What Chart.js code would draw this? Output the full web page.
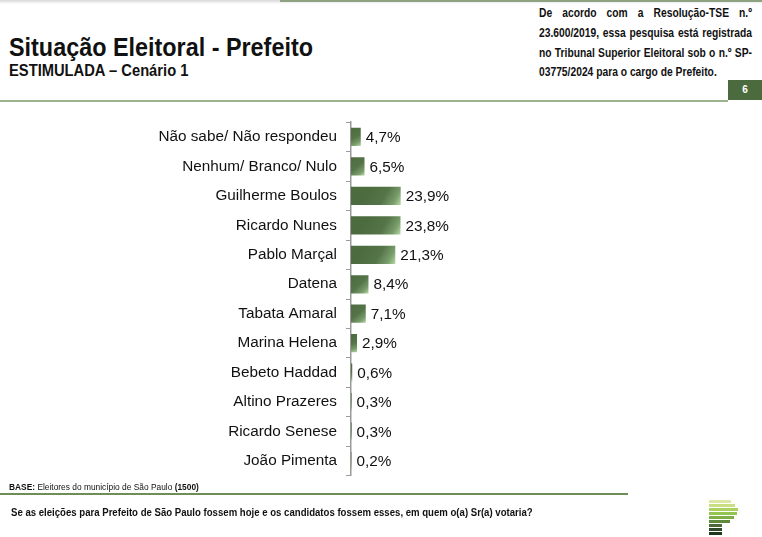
<!DOCTYPE html>
<html lang="pt-BR">
<head>
    <meta charset="UTF-8">
    <title>Situação Eleitoral - Prefeito</title>
    <script src="https://cdn.jsdelivr.net/npm/chart.js"></script>
    <style>
        body { margin: 0; width: 762px; height: 537px; position: relative; background: #fff; overflow: hidden;
               font-family: "Liberation Sans", Arial, sans-serif; color: #111; }
        .abs { position: absolute; white-space: nowrap; }
        .estreito { transform-origin: left top; }
        #topShadow { left: 0; top: 0; width: 762px; height: 4px; background: linear-gradient(#d8d8d8, #fff); }
        #topLine { left: 280px; top: 0; width: 482px; height: 2px; background: #8fa383; }
        #titulo { left: 9px; top: 33px; font-size: 25px; font-weight: bold; transform: scaleX(0.935); }
        #subtitulo { left: 9px; top: 62px; font-size: 16px; font-weight: bold; transform: scaleX(0.92); }
        .nota { left: 539px; font-size: 12.5px; font-weight: bold; text-align: justify; text-align-last: justify;
                height: 15px; }
        .nota.ultima { text-align-last: left; }
        #pagina { left: 728px; top: 80px; width: 34px; height: 20px; background: #4b6a3d; color: #fff; font-size: 10px;
                  font-weight: bold; text-align: center; line-height: 20px; }
        #linhaTopo { left: 0; top: 100px; width: 728px; height: 2px; background: #9cb38c; }
        #chartBox { left: 0; top: 104px; width: 762px; height: 390px; }
        #base { left: 9px; top: 482px; font-size: 9px; transform: scaleX(0.93); }
        #linhaBase { left: 0; top: 493px; width: 628px; height: 2px; background: #6d8f55; }
        #pergunta { left: 11px; top: 506px; font-size: 10.5px; font-weight: bold; transform: scaleX(0.914); }
        #logo { left: 709px; top: 500px; }
        #logo div { height: 3px; margin-bottom: 1px; }
    </style>
</head>
<body>
    <div id="topShadow" class="abs"></div>
    <div id="topLine" class="abs"></div>
    <div id="titulo" class="abs estreito">Situação Eleitoral - Prefeito</div>
    <div id="subtitulo" class="abs estreito">ESTIMULADA – Cenário 1</div>
    <div class="abs estreito nota" style="top:6px">De acordo com a Resolução-TSE n.º</div>
    <div class="abs estreito nota" style="top:26px">23.600/2019, essa pesquisa está registrada</div>
    <div class="abs estreito nota" style="top:46px">no Tribunal Superior Eleitoral sob o n.º SP-</div>
    <div class="abs estreito nota ultima" style="top:65px">03775/2024 para o cargo de Prefeito.</div>
    <div id="pagina" class="abs">6</div>
    <div id="linhaTopo" class="abs"></div>

    <div id="chartBox" class="abs"><canvas id="grafico"></canvas></div>

    <div id="base" class="abs estreito"><b>BASE:</b> Eleitores do município de São Paulo <b>(1500)</b></div>
    <div id="linhaBase" class="abs"></div>
    <div id="pergunta" class="abs estreito">Se as eleições para Prefeito de São Paulo fossem hoje e os candidatos fossem esses, em quem o(a) Sr(a) votaria?</div>

    <div id="logo" class="abs">
        <div style="width:22px;background:#dfe8a3"></div>
        <div style="width:26px;background:#c9df82"></div>
        <div style="width:29px;background:#acd15f"></div>
        <div style="width:28px;background:#95c450"></div>
        <div style="width:25px;background:#7fae45"></div>
        <div style="width:21px;background:#5f8a3c"></div>
        <div style="width:13px;background:#4b6a38"></div>
        <div style="width:13px;background:#2f4a28"></div>
        <div style="width:13px;background:#1d3a1f"></div>
    </div>

    <script>
        // Nota do TSE: comprime as linhas para caberem em 213px e justifica
        (function () {
            const linhas = Array.from(document.querySelectorAll('.nota'));
            const maior = Math.max(...linhas.map(l => l.getBoundingClientRect().width));
            const escala = 210 / maior;
            linhas.forEach(l => {
                l.style.width = (213 / escala) + 'px';
                l.style.transform = 'scaleX(' + escala + ')';
            });
        })();

        // Dados da pesquisa
        const candidatos = ['Não sabe/ Não respondeu', 'Nenhum/ Branco/ Nulo', 'Guilherme Boulos', 'Ricardo Nunes',
            'Pablo Marçal', 'Datena', 'Tabata Amaral', 'Marina Helena', 'Bebeto Haddad', 'Altino Prazeres',
            'Ricardo Senese', 'João Pimenta'];
        const percentuais = [4.7, 6.5, 23.9, 23.8, 21.3, 8.4, 7.1, 2.9, 0.6, 0.3, 0.3, 0.2];

        // Degradê diagonal em cada barra (claro no canto inferior direito), calculado pelas escalas
        function corBarra(ctx) {
            const chart = ctx.chart;
            const xs = chart.scales.x, ys = chart.scales.y;
            if (!chart.chartArea || !xs || !ys || ctx.dataIndex === undefined) return '#4f6e41';
            const x0 = xs.getPixelForValue(0);
            const x1 = Math.max(xs.getPixelForValue(percentuais[ctx.dataIndex]), x0 + 1);
            const yc = ys.getPixelForValue(ctx.dataIndex);
            const inicio = Math.max(x0, x1 - 32);
            const g = chart.ctx.createLinearGradient(inicio, yc - 9, x1, yc + 9);
            g.addColorStop(0, '#4c6b3f');
            g.addColorStop(0.5, '#557549');
            g.addColorStop(0.8, '#7a9d6c');
            g.addColorStop(1, '#b5d8a6');
            return g;
        }

        // Rótulos de valor ao lado das barras
        const rotulos = {
            id: 'rotulos',
            afterDatasetsDraw(chart) {
                const c = chart.ctx;
                const meta = chart.getDatasetMeta(0);
                c.save();
                c.font = '15.3px "Liberation Sans", Arial, sans-serif';
                c.fillStyle = '#111';
                c.textBaseline = 'middle';
                meta.data.forEach((bar, i) => {
                    const txt = percentuais[i].toFixed(1).replace('.', ',') + '%';
                    c.fillText(txt, bar.x + 5, bar.y + 1);
                });
                c.restore();
            }
        };

        new Chart(document.getElementById('grafico'), {
            type: 'bar',
            data: {
                labels: candidatos,
                datasets: [{
                    data: percentuais,
                    backgroundColor: corBarra,
                    barPercentage: 0.62,
                    categoryPercentage: 1
                }]
            },
            options: {
                indexAxis: 'y',
                responsive: true,
                maintainAspectRatio: false,
                animation: false,
                layout: { padding: { left: 0, right: 203, top: 0, bottom: 0 } },
                plugins: { legend: { display: false }, tooltip: { enabled: false } },
                scales: {
                    x: { display: false, min: 0, max: 100 },
                    y: {
                        afterFit(scale) { scale.width = 351; },
                        border: { color: '#9a9a9a', width: 1.5 },
                        grid: { drawOnChartArea: false, drawTicks: true, tickLength: 5, color: '#9a9a9a', offset: true },
                        ticks: { color: '#111', padding: 9, font: { size: 15.3, family: '"Liberation Sans", Arial, sans-serif' } }
                    }
                }
            },
            plugins: [rotulos]
        });
    </script>
</body>
</html>
